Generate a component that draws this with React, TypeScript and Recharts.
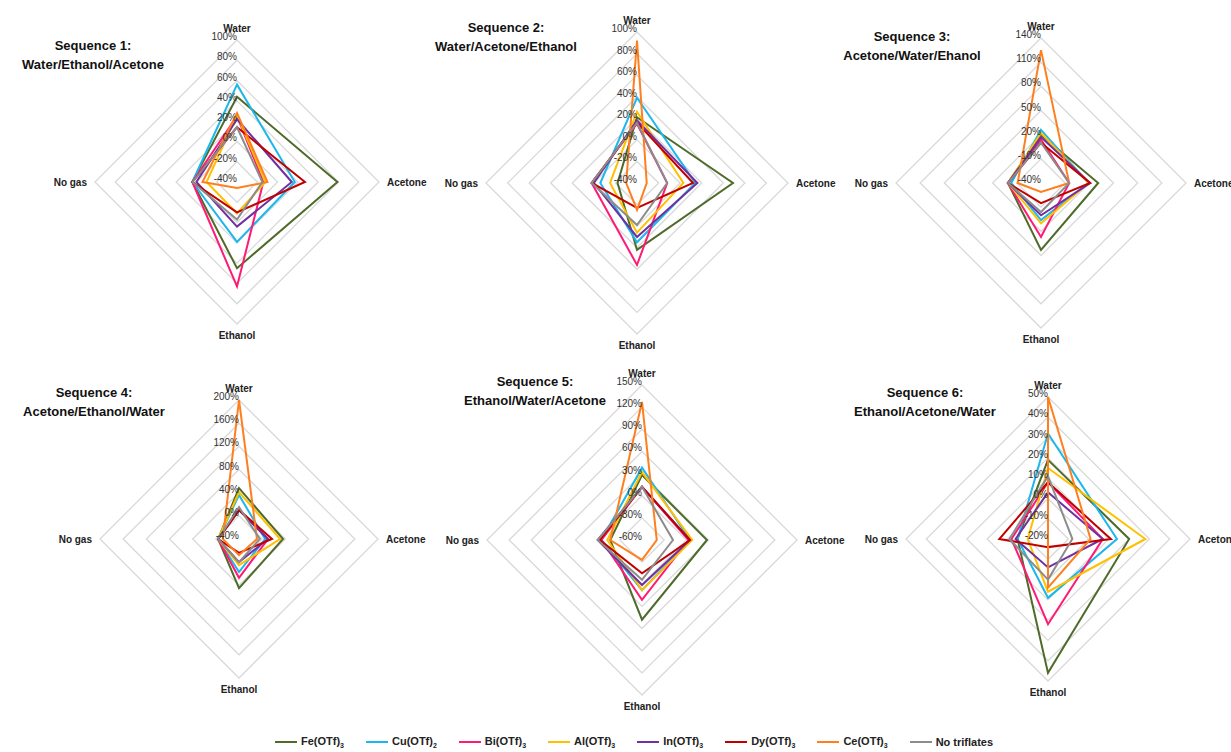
import React from "react";
import { RadarChart, Radar, PolarGrid, PolarAngleAxis, PolarRadiusAxis } from "recharts";

const axes = ["Water", "Acetone", "Ethanol", "No gas"];
const seriesNames = ["Fe(OTf)3", "Cu(OTf)2", "Bi(OTf)3", "Al(OTf)3", "In(OTf)3", "Dy(OTf)3", "Ce(OTf)3", "No triflates"];
const colors = ["#4f6b2a", "#1cb7ec", "#ff1a75", "#ffc000", "#7030a0", "#c00000", "#ff7f1e", "#8c8c8c"];

// values per series in order Water, Acetone, Ethanol, No gas
const seq1 = [[44, 59, 45, 4], [56, 17, 19, 4], [25, -14, 63, 4], [26, -12, -9, -10], [22, 14, 4, 0], [14, 27, -10, 4], [28, -10, -34, -6], [14, -15, -3, 4]];
const seq2 = [[21, 49, 22, -22], [39, 14, 15, -6], [15, -12, 36, 2], [26, 3, 6, -15], [18, 16, 10, 0], [16, 12, -17, 2], [92, -31, -15, -30], [16, -12, -1, 2]];
const seq3 = [[20, 31, 43, 1], [26, 19, 6, -3], [14, -5, 27, 1], [22, 19, 10, 1], [17, 21, 0, 1], [10, 21, -15, 1], [125, -5, -29, -11], [10, -5, -4, 1]];
const seq4 = [[48, 36, 45, -4], [36, 5, 17, -4], [10, 10, 27, -4], [41, 31, 5, -4], [10, 10, 0, -4], [10, 17, -16, -4], [200, -9, -12, -12], [15, -4, 0, -4]];
const seq5 = [[28, 28, 48, -17], [38, 5, 8, -5], [12, 3, 21, -5], [32, 8, 8, -13], [12, 5, 1, 0], [12, 5, -15, -3], [127, -40, -33, -17], [12, -18, -6, 0]];
const seq6 = [[19, 20, 46, -5], [32, 14, 9, -5], [8, 7, 22, -2], [15, 28, 6, -10], [3, 7, -6, -4], [8, 11, -16, 4], [50, 1, 4, -20], [11, -8, 0, -1]];

const titles = [
  ["Sequence 1:", "Water/Ethanol/Acetone"],
  ["Sequence 2:", "Water/Acetone/Ethanol"],
  ["Sequence 3:", "Acetone/Water/Ehanol"],
  ["Sequence 4:", "Acetone/Ethanol/Water"],
  ["Sequence 5:", "Ethanol/Water/Acetone"],
  ["Sequence 6:", "Ethanol/Acetone/Water"],
];
const domains: [number, number][] = [[-40, 100], [-40, 100], [-40, 140], [-40, 200], [-60, 150], [-20, 50]];
const tickCounts = [8, 8, 7, 7, 8, 8];

const panels = [
  { vals: seq1, cx: 237, cy: 182, r: 142, tx: 93, ty: 36 },
  { vals: seq2, cx: 637, cy: 183, r: 151, tx: 506, ty: 18 },
  { vals: seq3, cx: 1041, cy: 183, r: 145, tx: 912, ty: 27 },
  { vals: seq4, cx: 239, cy: 539, r: 139, tx: 94, ty: 383 },
  { vals: seq5, cx: 642, cy: 540, r: 155, tx: 535, ty: 372 },
  { vals: seq6, cx: 1048, cy: 539, r: 142, tx: 925, ty: 383 },
];

const W = 420, H = 380;
const FONT = "Liberation Sans, Arial, sans-serif";

function Panel({ idx }: { idx: number }) {
  const p = panels[idx];
  const data = axes.map((a, i) => {
    const row: any = { axis: a };
    p.vals.forEach((v, s) => (row["s" + s] = v[i]));
    return row;
  });
  return (
    <>
      <div style={{ position: "absolute", left: p.cx - W / 2, top: p.cy - H / 2 }}>
        <RadarChart width={W} height={H} cx={W / 2} cy={H / 2} outerRadius={p.r} data={data} startAngle={90} endAngle={-270}>
          <PolarGrid gridType="polygon" radialLines={false} stroke="#d9d9d9" strokeWidth={1.3} />
          <PolarAngleAxis dataKey="axis" tick={{ fontSize: 10, fontWeight: 700, fill: "#222", fontFamily: FONT }} />
          <PolarRadiusAxis
            type="number"
            angle={90}
            domain={domains[idx]}
            tickCount={tickCounts[idx]}
            axisLine={false}
            tickLine={false}
            orientation="left"
            tickFormatter={(v: number) => `${v}%`}
            tick={{ fontSize: 10, fill: "#333", fontFamily: FONT }}
            allowDataOverflow
          />
          {seriesNames.map((n, s) => (
            <Radar key={n} dataKey={"s" + s} stroke={colors[s]} strokeWidth={2} fill="none" fillOpacity={0} dot={false} isAnimationActive={false} />
          ))}
        </RadarChart>
      </div>
      <div style={{ position: "absolute", left: p.tx - 110, top: p.ty, width: 220, textAlign: "center", fontFamily: FONT, fontWeight: 700, fontSize: 13, lineHeight: "19px", color: "#111" }}>
        {titles[idx][0]}
        <br />
        {titles[idx][1]}
      </div>
    </>
  );
}

function LegendLabel({ name }: { name: string }) {
  const m = name.match(/^(.*\))(\d)$/);
  if (!m) return <span>{name}</span>;
  return (
    <span>
      {m[1]}
      <sub style={{ fontSize: 7 }}>{m[2]}</sub>
    </span>
  );
}

export default function App() {
  return (
    <div style={{ position: "absolute", left: 0, top: 0, width: 1231, height: 752, background: "#fff", overflow: "hidden" }}>
      {panels.map((_, i) => (
        <Panel key={i} idx={i} />
      ))}
      <div style={{ position: "absolute", left: 275, top: 735, display: "flex", gap: 22, fontFamily: "Liberation Sans Narrow, Liberation Sans, Arial, sans-serif", fontWeight: 700, fontSize: 11, color: "#222", alignItems: "center" }}>
        {seriesNames.map((n, s) => (
          <div key={n} style={{ display: "flex", alignItems: "center", gap: 4 }}>
            <div style={{ width: 22, height: 2, background: colors[s] }} />
            <LegendLabel name={n} />
          </div>
        ))}
      </div>
    </div>
  );
}
